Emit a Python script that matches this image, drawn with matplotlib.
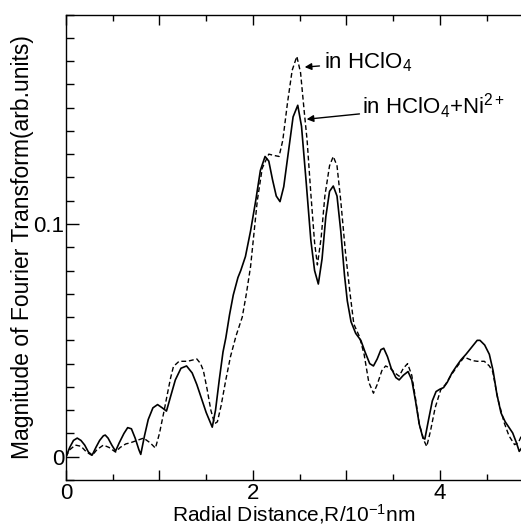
import matplotlib
matplotlib.use("Agg")
import matplotlib.pyplot as plt
from matplotlib.ticker import MultipleLocator, FixedLocator

plt.rcParams['font.family'] = ['Liberation Sans', 'DejaVu Sans']
plt.rcParams['mathtext.fontset'] = 'custom'
plt.rcParams['mathtext.rm'] = 'Liberation Sans'
plt.rcParams['mathtext.it'] = 'Liberation Sans:italic'
plt.rcParams['mathtext.bf'] = 'Liberation Sans:bold'

# Solid curve: in HClO4 + Ni2+
r_ni = [0.00, 0.04, 0.08, 0.12, 0.16, 0.20, 0.24, 0.28, 0.32, 0.36, 0.40, 0.42, 0.45, 0.49,
        0.53, 0.57, 0.62, 0.66, 0.70, 0.74, 0.78, 0.80, 0.84, 0.88, 0.93, 0.98, 1.03, 1.075,
        1.12, 1.17, 1.23, 1.29, 1.35, 1.40, 1.45, 1.50, 1.565, 1.60, 1.64, 1.68, 1.71, 1.75,
        1.79, 1.84, 1.87, 1.92, 1.975, 2.03, 2.08, 2.13, 2.17, 2.21, 2.25, 2.29, 2.33, 2.38,
        2.43, 2.48, 2.52, 2.57, 2.62, 2.66, 2.70, 2.74, 2.78, 2.82, 2.86, 2.90, 2.94, 2.98,
        3.01, 3.05, 3.10, 3.155, 3.20, 3.25, 3.29, 3.33, 3.37, 3.40, 3.44, 3.48, 3.53, 3.565,
        3.61, 3.66, 3.70, 3.74, 3.78, 3.82, 3.84, 3.88, 3.92, 3.96, 4.00, 4.04, 4.08, 4.13,
        4.18, 4.226, 4.28, 4.34, 4.40, 4.43, 4.48, 4.53, 4.57, 4.61, 4.655, 4.70, 4.75, 4.78,
        4.82, 4.85, 4.88]
m_ni = [0.000, 0.004, 0.007, 0.008, 0.007, 0.005, 0.002, 0.0007, 0.004, 0.007, 0.009, 0.0093,
        0.008, 0.005, 0.0024, 0.006, 0.010, 0.0125, 0.012, 0.008, 0.003, 0.001, 0.009, 0.016,
        0.021, 0.0224, 0.021, 0.0196, 0.026, 0.033, 0.038, 0.039, 0.036, 0.031, 0.025, 0.019,
        0.0127, 0.020, 0.033, 0.045, 0.051, 0.061, 0.0695, 0.077, 0.080, 0.086, 0.097, 0.110,
        0.123, 0.129, 0.127, 0.119, 0.112, 0.1096, 0.116, 0.131, 0.146, 0.151, 0.142, 0.118,
        0.093, 0.080, 0.0742, 0.085, 0.103, 0.114, 0.1163, 0.112, 0.097, 0.078, 0.067, 0.058,
        0.053, 0.050, 0.045, 0.040, 0.039, 0.042, 0.046, 0.0466, 0.043, 0.038, 0.034, 0.033,
        0.035, 0.0366, 0.033, 0.024, 0.014, 0.008, 0.0076, 0.016, 0.024, 0.028, 0.029, 0.0297,
        0.032, 0.036, 0.039, 0.0416, 0.044, 0.047, 0.050, 0.050, 0.048, 0.044, 0.037, 0.027,
        0.0188, 0.015, 0.012, 0.0102, 0.006, 0.0023, 0.004]

# Dashed curve: in HClO4
r_h = [0.00, 0.04, 0.10, 0.16, 0.22, 0.28, 0.33, 0.40, 0.46, 0.53, 0.58, 0.64, 0.69, 0.76,
       0.83, 0.90, 0.957, 1.00, 1.046, 1.09, 1.12, 1.15, 1.21, 1.30, 1.40, 1.44, 1.47, 1.51,
       1.55, 1.59, 1.62, 1.66, 1.71, 1.76, 1.82, 1.886, 1.93, 1.975, 2.047, 2.10, 2.17, 2.22,
       2.28, 2.32, 2.37, 2.42, 2.47, 2.51, 2.55, 2.58, 2.62, 2.66, 2.69, 2.73, 2.77, 2.82,
       2.86, 2.90, 2.94, 2.99, 3.04, 3.08, 3.14, 3.19, 3.24, 3.29, 3.33, 3.38, 3.42, 3.47,
       3.52, 3.565, 3.61, 3.655, 3.70, 3.74, 3.78, 3.83, 3.86, 3.90, 3.95, 4.01, 4.06, 4.12,
       4.19, 4.26, 4.35, 4.40, 4.476, 4.53, 4.566, 4.62, 4.69, 4.74, 4.80, 4.84, 4.87]
m_h = [0.000, 0.003, 0.005, 0.0045, 0.002, 0.0005, 0.003, 0.005, 0.004, 0.002, 0.004, 0.0055,
       0.006, 0.007, 0.008, 0.006, 0.0037, 0.010, 0.019, 0.028, 0.034, 0.0388, 0.041, 0.041,
       0.042, 0.040, 0.037, 0.029, 0.020, 0.0142, 0.015, 0.022, 0.033, 0.043, 0.052, 0.060,
       0.070, 0.0817, 0.110, 0.124, 0.130, 0.1295, 0.129, 0.136, 0.152, 0.166, 0.172, 0.165,
       0.148, 0.136, 0.113, 0.092, 0.0824, 0.094, 0.112, 0.125, 0.129, 0.125, 0.110, 0.088,
       0.070, 0.057, 0.0516, 0.044, 0.032, 0.0273, 0.031, 0.037, 0.039, 0.038, 0.036, 0.0346,
       0.038, 0.040, 0.035, 0.025, 0.014, 0.007, 0.0044, 0.011, 0.021, 0.0288, 0.031, 0.035,
       0.039, 0.0428, 0.0413, 0.041, 0.041, 0.039, 0.0366, 0.025, 0.0145, 0.009, 0.0052,
       0.006, 0.0087]

x_major = [0, 1, 2, 3, 4, 5]
x_labels = ['0', '', '2', '', '4', '']
y_major = [0, 0.1]
y_labels = ['0', '0.1']

fig = plt.figure(figsize=(5.21, 5.28), dpi=100)
ax = fig.add_axes([66 / 521, 48 / 528, 1 - 66 / 521 + 0.002, (480 - 14.5) / 528])

ax.plot(r_ni, m_ni, color='black', lw=1.2, solid_joinstyle='round')
ax.plot(r_h, m_h, color='black', lw=1.0, dashes=(3.5, 2))

ax.set_xlim(0, 4.88)
ax.set_ylim(-0.01, 0.19)

ax.xaxis.set_major_locator(FixedLocator(x_major))
ax.set_xticklabels(x_labels)
ax.xaxis.set_minor_locator(MultipleLocator(0.5))
ax.yaxis.set_major_locator(FixedLocator(y_major))
ax.set_yticklabels(y_labels)
ax.yaxis.set_minor_locator(MultipleLocator(0.01))

ax.tick_params(which='both', direction='in', top=True, right=False, labelsize=16, width=1)
ax.tick_params(axis='x', which='major', length=7, pad=2)
ax.tick_params(axis='x', which='minor', length=4)
ax.tick_params(axis='y', which='major', length=9, pad=1)
ax.tick_params(axis='y', which='minor', length=6)
ax.spines['right'].set_visible(False)
for s in ['left', 'top', 'bottom']:
    ax.spines[s].set_linewidth(1.0)

ax.set_xlabel('Radial Distance,R/10$^{-1}$nm', fontsize=15, labelpad=-1)
ax.set_ylabel('Magnitude of Fourier Transform(arb.units)', fontsize=16.5, labelpad=0)

ax.annotate('in HClO$_4$', xy=(2.554, 0.1674), xytext=(2.757, 0.1695),
            fontsize=16, va='center', ha='left',
            arrowprops=dict(arrowstyle='-|>', color='black', lw=1, mutation_scale=10,
                            shrinkA=1, shrinkB=0))
ax.annotate('in HClO$_4$+Ni$^{2+}$', xy=(2.575, 0.145), xytext=(3.17, 0.1505),
            fontsize=16, va='center', ha='left',
            arrowprops=dict(arrowstyle='-|>', color='black', lw=1, mutation_scale=10,
                            shrinkA=0, shrinkB=0))

fig.savefig('out.png', dpi=100)
